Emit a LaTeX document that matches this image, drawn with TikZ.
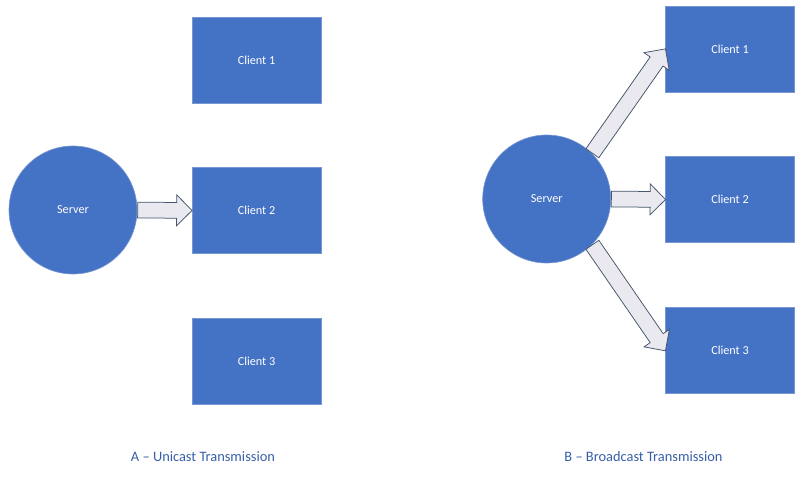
\documentclass[tikz,border=0pt]{standalone}
\usepackage{fontspec}
\setmainfont{Carlito}
\usepackage{tikz}
\usetikzlibrary{shapes.arrows, calc}
\definecolor{boxblue}{RGB}{68,114,196}
\definecolor{boxedge}{RGB}{120,150,210}
\definecolor{arrowfill}{RGB}{233,233,239}
\definecolor{arrowedge}{RGB}{68,84,106}
\definecolor{captionblue}{RGB}{55,95,168}
\tikzset{server/.style = {shape = circle, fill = boxblue, draw = boxedge, line width = 0.6pt, minimum size = 128pt, text = white, font = \fontsize{12.2}{14}\selectfont}}
\tikzset{client/.style = {shape = rectangle, fill = boxblue, draw = boxedge, line width = 0.6pt, minimum width = 129pt, minimum height = 86pt, text = white, font = \fontsize{12.2}{14}\selectfont}}
\tikzset{barrow/.style = {shape = single arrow, fill = arrowfill, draw = arrowedge, line width = 0.75pt, inner xsep = 0pt, inner ysep = 7.5pt, minimum width = 30pt, single arrow head extend = 7.5pt, single arrow tip angle = 90, single arrow head indent = 0pt}}
\tikzset{caption/.style = {text = captionblue, font = \fontsize{14.4}{16}\selectfont}}

\begin{document}
\begin{tikzpicture}[x = 1pt, y = -1pt]
	\useasboundingbox (0, 0) rectangle (804, 484);

	% A - unicast
	\node[server] (sa) at (73, 210) {Server};
	\node[client] (ca1) at (256.5, 60) {Client 1};
	\node[client] (ca2) at (256.5, 210.5) {Client 2};
	\node[client] (ca3) at (256.5, 361.5) {Client 3};

	\path let \p1 = (sa.east), \p2 = (ca2.west), \n1 = {atan2(\y2-\y1, \x2-\x1)}, \n2 = {veclen(\x2-\x1, \y2-\y1)} in
		node[barrow, minimum height = \n2, rotate = \n1, anchor = tail] (ua2) at (\p1) {};

	% B - broadcast
	\node[server] (sb) at (546.7, 199) {Server};
	\node[client] (cb1) at (730, 49.2) {Client 1};
	\node[client] (cb2) at (730, 199.5) {Client 2};
	\node[client] (cb3) at (730, 350.5) {Client 3};

	\path let \p1 = (sb.45), \p2 = (cb1.west), \n1 = {atan2(\y2-\y1, \x2-\x1)}, \n2 = {veclen(\x2-\x1, \y2-\y1)} in
		node[barrow, minimum height = \n2, rotate = \n1, anchor = tail] (ba1) at (\p1) {};
	\path let \p1 = (sb.east), \p2 = (cb2.west), \n1 = {atan2(\y2-\y1, \x2-\x1)}, \n2 = {veclen(\x2-\x1, \y2-\y1)} in
		node[barrow, minimum height = \n2, rotate = \n1, anchor = tail] (ba2) at (\p1) {};
	\path let \p1 = (sb.-45), \p2 = (cb3.west), \n1 = {atan2(\y2-\y1, \x2-\x1)}, \n2 = {veclen(\x2-\x1, \y2-\y1)} in
		node[barrow, minimum height = \n2, rotate = \n1, anchor = tail] (ba3) at (\p1) {};

	\node[caption] (capa) at (203, 457) {A – Unicast Transmission};
	\node[caption] (capb) at (643.5, 457) {B – Broadcast Transmission};
\end{tikzpicture}
\end{document}
